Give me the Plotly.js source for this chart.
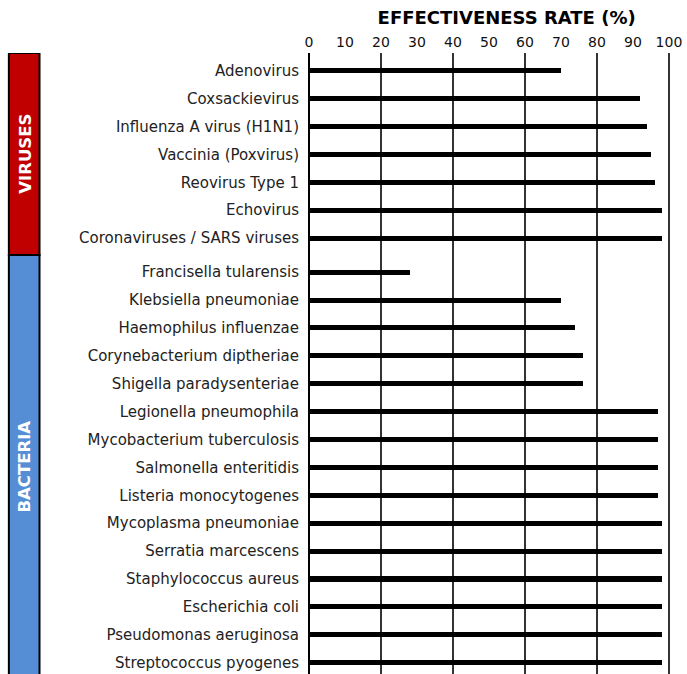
<!DOCTYPE html>
<html>
<head>
<meta charset="utf-8">
<script src="https://cdn.plot.ly/plotly-3.0.1.min.js"></script>
<style>html,body{margin:0;padding:0;background:#fff;}#chart{width:687px;height:674px;}</style>
</head>
<body>
<div id="chart"></div>
<script>
// ---- data ----
const virusNames = ["Adenovirus", "Coxsackievirus", "Influenza A virus (H1N1)", "Vaccinia (Poxvirus)", "Reovirus Type 1", "Echovirus", "Coronaviruses / SARS viruses"];
const virusRates = [70, 92, 94, 95, 96, 98, 98];
const bacteriaNames = ["Francisella tularensis", "Klebsiella pneumoniae", "Haemophilus influenzae", "Corynebacterium diptheriae", "Shigella paradysenteriae", "Legionella pneumophila", "Mycobacterium tuberculosis", "Salmonella enteritidis", "Listeria monocytogenes", "Mycoplasma pneumoniae", "Serratia marcescens", "Staphylococcus aureus", "Escherichia coli", "Pseudomonas aeruginosa", "Streptococcus pyogenes"];
const bacteriaRates = [28, 70, 74, 76, 76, 97, 97, 97, 97, 98, 98, 98, 98, 98, 98];
const groupLabels = ["VIRUSES", "BACTERIA"];
const groupColors = ["#C00000", "#558ED5"];
const xTickVals = [0, 10, 20, 30, 40, 50, 60, 70, 80, 90, 100];

// ---- layout helpers (row positions with a small gap between groups) ----
const groupGap = 0.22;
const virusPos = virusNames.map((_, i) => i);
const bacteriaPos = bacteriaNames.map((_, i) => virusNames.length + groupGap + i);
const allNames = virusNames.concat(bacteriaNames);
const allRates = virusRates.concat(bacteriaRates);
const allPos = virusPos.concat(bacteriaPos);
const yTop = -0.634, yBottom = bacteriaPos[bacteriaPos.length - 1] + 0.405;
const splitY = (virusPos[virusPos.length - 1] + bacteriaPos[0]) / 2;

const font = "DejaVu Sans, Verdana, sans-serif";
const xRange = [0, 100.3];

const bars = {
  type: "bar",
  orientation: "h",
  x: allRates,
  y: allPos,
  width: 0.18,
  marker: {color: "#000000", line: {width: 0}},
  xaxis: "x",
  yaxis: "y",
  hoverinfo: "x+text",
  text: allNames,
  textposition: "none"
};
// invisible helper so the grid axis (x2) is active
const gridHelper = {
  type: "scatter", mode: "markers",
  x: allRates, y: allPos,
  marker: {opacity: 0, size: 1},
  xaxis: "x2", yaxis: "y",
  hoverinfo: "skip", showlegend: false
};

const boxX0 = -0.8314, boxX1 = -0.7465;
const layout = {
  width: 687, height: 674,
  margin: {l: 309, r: 17, t: 53, b: 0, pad: 0},
  paper_bgcolor: "#ffffff",
  plot_bgcolor: "#ffffff",
  showlegend: false,
  bargap: 0,
  title: {
    text: "<b>EFFECTIVENESS RATE (%)</b>",
    font: {family: font, size: 18, color: "#000"},
    xref: "container", yref: "container",
    x: 0.7375, xanchor: "center",
    y: 0.973, yanchor: "middle"
  },
  xaxis: {
    range: xRange, side: "top", anchor: "y",
    tickmode: "array", tickvals: xTickVals,
    ticks: "", showgrid: false, zeroline: false, showline: false,
    tickfont: {family: font, size: 14, color: "#111"},
    ticklabelstandoff: 2,
    fixedrange: true
  },
  xaxis2: {
    range: xRange, overlaying: "x", side: "top", anchor: "y",
    tick0: 0, dtick: 20, showticklabels: false, ticks: "",
    showgrid: true, gridcolor: "#333", gridwidth: 1.2,
    zeroline: true, zerolinecolor: "#000", zerolinewidth: 2,
    showline: false, fixedrange: true
  },
  yaxis: {
    range: [yBottom, yTop],
    tickmode: "array", tickvals: allPos, ticktext: allNames,
    ticks: "", showgrid: false, zeroline: false, showline: false,
    tickfont: {family: font, size: 15, color: "#222"},
    ticklabelstandoff: 9,
    fixedrange: true
  },
  shapes: [
    {type: "rect", xref: "paper", yref: "y", x0: boxX0, x1: boxX1, y0: yTop, y1: splitY,
     fillcolor: groupColors[0], line: {color: "#000", width: 2}, layer: "above"},
    {type: "rect", xref: "paper", yref: "y", x0: boxX0, x1: boxX1, y0: splitY, y1: yBottom + 1,
     fillcolor: groupColors[1], line: {color: "#000", width: 2}, layer: "above"}
  ],
  annotations: [
    {xref: "paper", yref: "y", x: (boxX0 + boxX1) / 2, y: (yTop + splitY) / 2,
     text: "<b>" + groupLabels[0] + "</b>", textangle: -90, showarrow: false, xshift: -11,
     font: {family: font, size: 16.5, color: "#fff"}},
    {xref: "paper", yref: "y", x: (boxX0 + boxX1) / 2, y: 14.2,
     text: "<b>" + groupLabels[1] + "</b>", textangle: -90, showarrow: false, xshift: -11,
     font: {family: font, size: 16.5, color: "#fff"}}
  ]
};

Plotly.newPlot("chart", [bars, gridHelper], layout, {displayModeBar: false, staticPlot: true});
</script>
</body>
</html>
